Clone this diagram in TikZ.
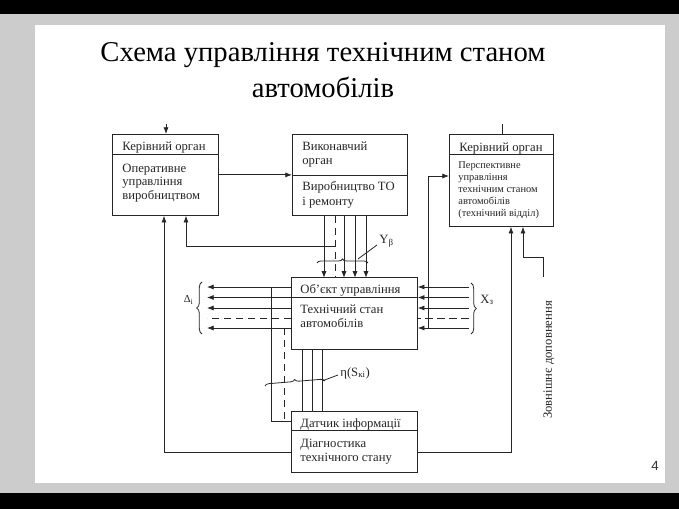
\documentclass[tikz,border=0pt]{standalone}
\usepackage{fontspec}
\setmainfont{Liberation Serif}
\newfontfamily\pagefont{Liberation Sans}
\usetikzlibrary{shapes,arrows,arrows.meta,calc,decorations.pathreplacing}
\tikzstyle{line} = [draw, -{Latex[length=5pt,width=3.8pt]}]
\tikzstyle{dsh} = [draw, dash pattern=on 5.5pt off 3.5pt]
\tikzstyle{block} = [draw, rectangle, anchor=north west, inner sep=0pt]
\tikzstyle{hdr} = [anchor=north west, inner sep=0pt, align=left, font=\fontsize{9.5}{10.4}\selectfont]
\tikzstyle{small} = [anchor=north west, inner sep=0pt, align=left, font=\fontsize{7.8}{9}\selectfont]
\tikzstyle{brc} = [draw, decorate, decoration={brace, amplitude=4pt}]

\begin{document}
\begin{tikzpicture}[x=0.75pt,y=-0.75pt,line width=0.6pt,color=black!85]

\useasboundingbox (0,0) rectangle (679,509);
\fill[black] (0,0) rectangle (679,14);
\fill[black!20] (0,14) rectangle (679,493);
\fill[white] (35,25) rectangle (665,483);
\fill[black] (0,493) rectangle (679,509);

\node[align=center, font=\fontsize{21.5}{27}\selectfont, text=black] (title) at (323,70)
	{Схема управління технічним станом\\автомобілів};

% blocks
\node[block, minimum width=79.5pt, minimum height=60.75pt] (oper) at (112,134) {};
\node[block, minimum width=86.25pt, minimum height=60.75pt] (vyk) at (292,134) {};
\node[block, minimum width=78pt, minimum height=69pt] (persp) at (449,134) {};
\node[block, minimum width=94.5pt, minimum height=54pt] (obj) at (291,277) {};
\node[block, minimum width=94.5pt, minimum height=45.75pt] (dat) at (291,411) {};

\draw ($(oper.north west)+(0,20)$) -- ($(oper.north east)+(0,20)$);
\draw ($(vyk.north west)+(0,41)$) -- ($(vyk.north east)+(0,41)$);
\draw ($(persp.north west)+(0,20)$) -- ($(persp.north east)+(0,20)$);
\draw ($(obj.north west)+(0,20)$) -- ($(obj.north east)+(0,20)$);
\draw ($(dat.north west)+(0,19)$) -- ($(dat.north east)+(0,19)$);

\node[hdr] (operH) at (122,141.5) {Керівний орган};
\node[hdr, font=\fontsize{9.5}{10.2}\selectfont] (operT) at (122,163.5) {Оперативне\\управління\\виробництвом};
\node[hdr] (vykH) at (302,141.5) {Виконавчий\\орган};
\node[hdr, font=\fontsize{9.5}{11}\selectfont] (vykT) at (302,181.5) {Виробництво ТО\\і ремонту};
\node[hdr] (perspH) at (459,142) {Керівний орган};
\node[small] (perspT) at (458,161.5) {Перспективне\\управління\\технічним станом\\автомобілів\\(технічний відділ)};
\node[hdr] (objH) at (300,284.5) {Об’єкт управління};
\node[hdr] (objT) at (300,304.5) {Технічний стан\\автомобілів};
\node[hdr] (datH) at (300,418.5) {Датчик інформації};
\node[hdr] (datT) at (300,438.5) {Діагностика\\технічного стану};

% stubs from above
\coordinate (topL) at (166,124);
\coordinate (topR) at (502,124);
\draw[line] (topL) -- (topL |- oper.north);
\draw (topR) -- (topR |- persp.north);

\draw[line] (oper.east |- vyk.west) -- (vyk.west);

% Y bundle
\foreach \dx/\st in {32/line,43/dsh,52/line,63/line,74/line} {
	\draw[\st] ($(vyk.south west)+(\dx,0)$) -- ++(0,62);
}
\draw[brc, decoration={amplitude=3pt}] (317,263) -- (368,263);
\draw (358,259) -- (377,245);
\node[anchor=west, inner sep=0pt, font=\fontsize{9.5}{10}\selectfont] (ylab) at (379,241) {Y\textsubscript{β}};

% feedback to operative control
\draw[line] ($(vyk.south west)+(43,31)$) -| ($(oper.south west)+(74,0)$);

% inputs X and outputs Delta
\foreach \dy/\st in {10/line,20.5/line,31/line,41/dsh,51/line} {
	\draw[\st] ($(obj.north east)+(51,\dy)$) -- ($(obj.north east)+(0,\dy)$);
	\draw[\st] ($(obj.north west)+(0,\dy)$) -- ($(obj.north west)+(-84,\dy)$);
}
\draw[brc] (471,283) -- (471,334);
\draw[brc] (202,334) -- (202,282);
\node[anchor=west, inner sep=0pt, font=\fontsize{9.5}{10}\selectfont] (xlab) at (480,300) {X\textsubscript{з}};
\node[anchor=east, inner sep=0pt, font=\fontsize{8}{9}\selectfont] (dlab) at (194,300) {Δ\textsubscript{і}};

\draw[line] ($(obj.north east)+(11,51)$) |- ($(persp.north west)+(0,42)$);
\draw ($(obj.north west)+(-20,10)$) |- ($(dat.north west)+(0,10)$);
\draw[dsh] ($(obj.north west)+(-7,51)$) -- ($(dat.north west)+(-7,10)$);

% eta bundle
\foreach \dx in {11,21,31} {
	\draw ($(obj.south west)+(\dx,0)$) -- ++(0,62);
}
\draw[brc, decoration={amplitude=3pt}] (265,386) -- (325,381);
\draw (322,381) -- (338,375);
\node[anchor=west, inner sep=0pt, font=\fontsize{9.5}{10}\selectfont] (elab) at (340,373) {η(S\textsubscript{кі})};

% diagnostics back to control
\draw[line] ($(dat.north west)+(0,41)$) -| ($(oper.south west)+(52,0)$);
\draw[line] ($(dat.north east)+(0,41)$) -| ($(persp.south west)+(62,0)$);

\coordinate (ext) at (543,277);
\draw[line] (ext) -- ++(0,-20) -| ($(persp.south west)+(74,0)$);
\node[rotate=90, font=\fontsize{9.5}{10}\selectfont] (extlab) at (549,360) {Зовнішнє доповнення};

\node[font=\pagefont\fontsize{10}{12}\selectfont, text=black!80] (pnum) at (655,466) {4};
\end{tikzpicture}
\end{document}
